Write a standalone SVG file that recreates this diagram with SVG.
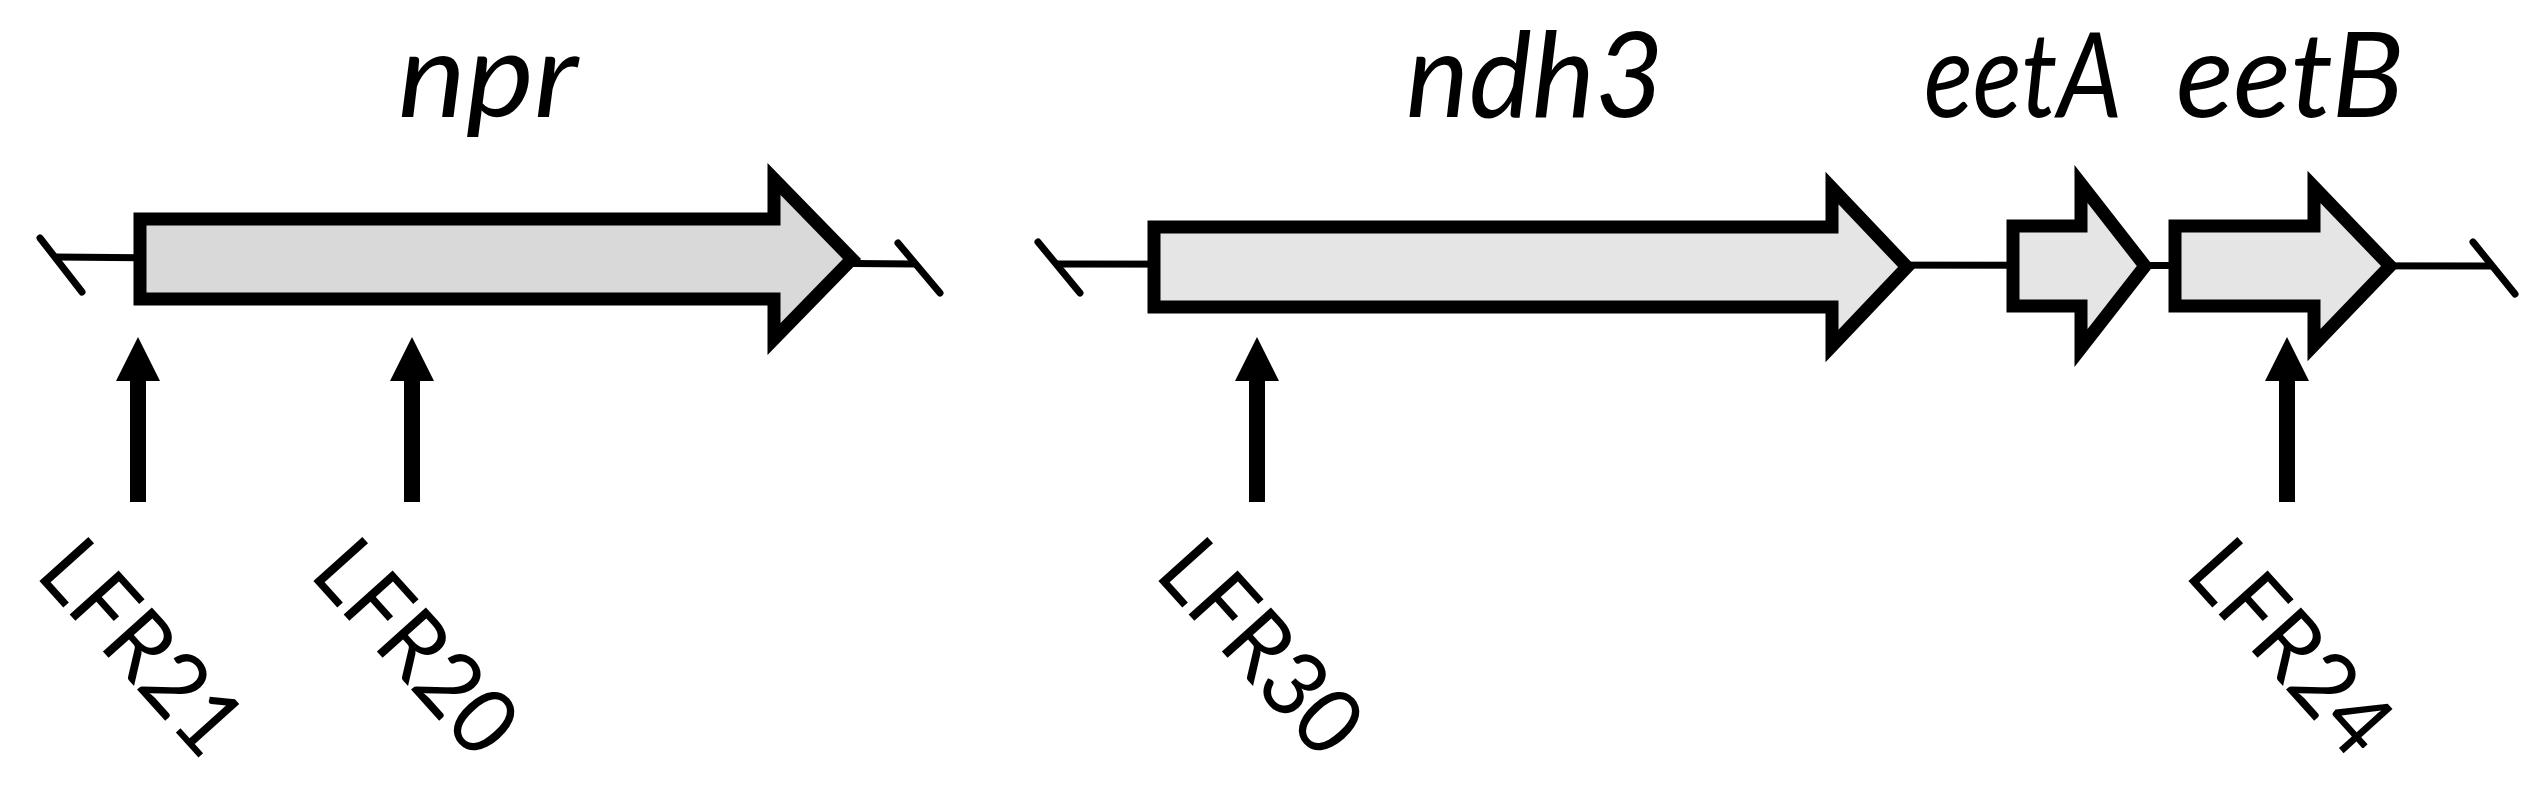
<svg xmlns="http://www.w3.org/2000/svg" width="2542" height="789" viewBox="0 0 2542 789">
  <style>
    .gene { stroke: #000; stroke-width: 13; stroke-linejoin: miter; stroke-miterlimit: 10; }
    .g1 { fill: #d9d9d9; }
    .g2 { fill: #e5e5e5; }
    .bb { stroke: #000; stroke-width: 7; fill: none; }
    .tick { stroke: #000; stroke-width: 7; stroke-linecap: round; fill: none; }
    .ptr { stroke: #000; stroke-width: 16; fill: none; }
    .gname { font-family: Lato, "Open Sans", "Liberation Sans", sans-serif; font-style: italic; font-size: 118px; fill: #000; text-anchor: middle; }
    .lfr { font-family: Lato, "Open Sans", "Liberation Sans", sans-serif; font-size: 92px; fill: #000; }
  </style>
  <defs>
    <marker id="ah" viewBox="0 0 44 44" refX="1" refY="22" markerWidth="44" markerHeight="44" markerUnits="userSpaceOnUse" orient="auto">
      <path d="M0,0 L44,22 L0,44 Z" fill="#000"/>
    </marker>
  </defs>
  <rect width="2542" height="789" fill="#fff"/>

  <g id="backbone">
    <line class="bb" x1="55" y1="257" x2="916" y2="264"/>
    <line class="tick" x1="40" y1="238" x2="82" y2="292"/>
    <line class="tick" x1="898" y1="243" x2="940" y2="293"/>
    <line class="bb" x1="1055" y1="264" x2="2493" y2="266"/>
    <line class="tick" x1="1038" y1="242" x2="1080" y2="293"/>
    <line class="tick" x1="2473" y1="242" x2="2515" y2="294"/>
  </g>

  <g id="npr">
    <path class="gene g1" d="M140,219 H774 V179 L852,259 L774,339 V299 H140 Z"/>
    <text class="gname" x="488" y="117" textLength="180" lengthAdjust="spacingAndGlyphs">npr</text>
  </g>
  <g id="ndh3">
    <path class="gene g2" d="M1154,227 H1832 V188 L1907,267 L1832,346 V307 H1154 Z"/>
    <text class="gname" x="1535" y="117" textLength="258" lengthAdjust="spacingAndGlyphs">ndh3</text>
  </g>
  <g id="eetA">
    <path class="gene g2" d="M2013,226 H2081 V184 L2145,266 L2081,348 V306 H2013 Z"/>
    <text class="gname" x="2023" y="117" textLength="198" lengthAdjust="spacingAndGlyphs">eetA</text>
  </g>
  <g id="eetB">
    <path class="gene g2" d="M2175,226 H2314 V187 L2390,266 L2314,345 V306 H2175 Z"/>
    <text class="gname" x="2290" y="117" textLength="228" lengthAdjust="spacingAndGlyphs">eetB</text>
  </g>

  <g id="connectors">
    <line class="ptr" x1="138" y1="502" x2="138" y2="380" marker-end="url(#ah)"/>
    <line class="ptr" x1="412" y1="502" x2="412" y2="380" marker-end="url(#ah)"/>
    <line class="ptr" x1="1257" y1="502" x2="1257" y2="380" marker-end="url(#ah)"/>
    <line class="ptr" x1="2287" y1="502" x2="2287" y2="380" marker-end="url(#ah)"/>
  </g>

  <g id="labels">
    <text class="lfr" transform="translate(34,575) rotate(48)" textLength="252" lengthAdjust="spacingAndGlyphs">LFR21</text>
    <text class="lfr" transform="translate(308,575) rotate(48)" textLength="252" lengthAdjust="spacingAndGlyphs">LFR20</text>
    <text class="lfr" transform="translate(1153,575) rotate(48)" textLength="252" lengthAdjust="spacingAndGlyphs">LFR30</text>
    <text class="lfr" transform="translate(2183,575) rotate(48)" textLength="252" lengthAdjust="spacingAndGlyphs">LFR24</text>
  </g>
</svg>
